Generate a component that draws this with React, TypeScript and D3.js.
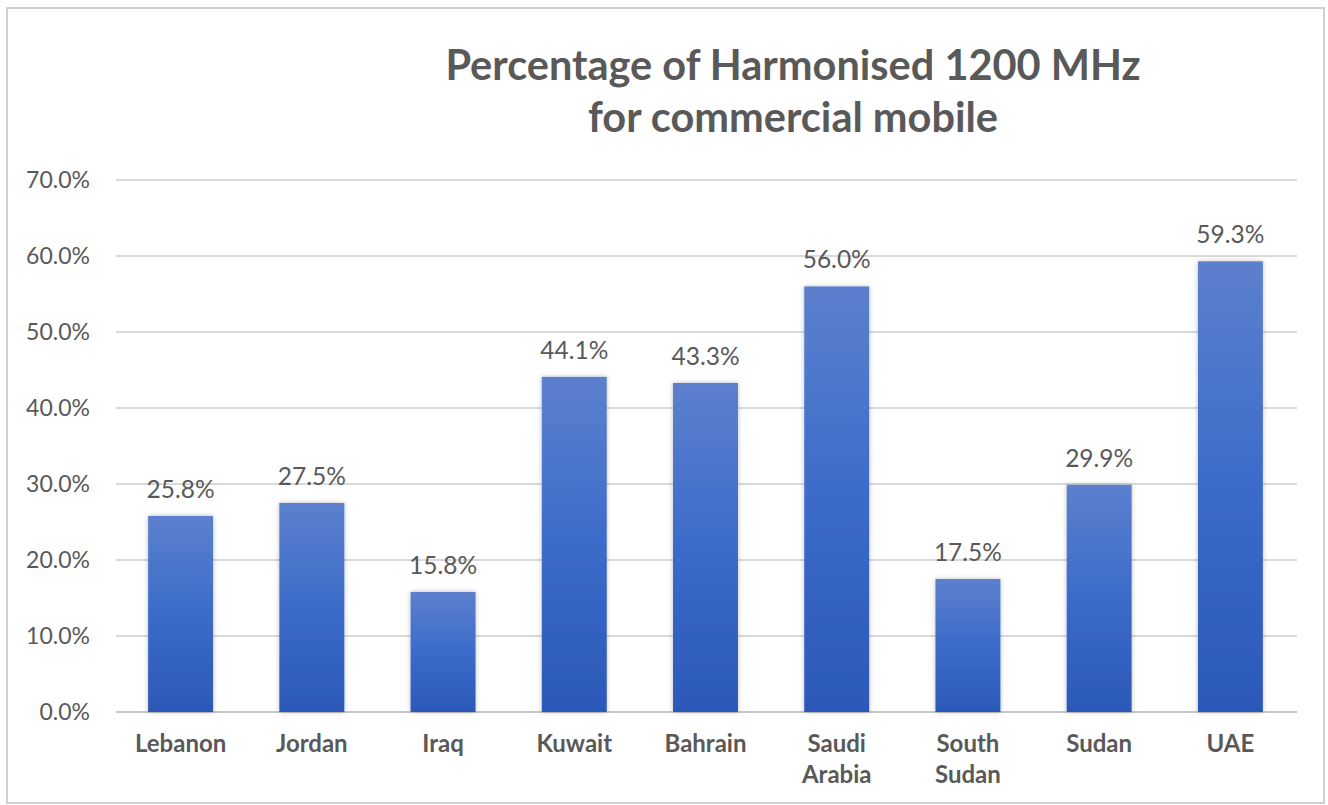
import React from "react";
import * as d3 from "d3";

const categories: string[][] = [
  ["Lebanon"],
  ["Jordan"],
  ["Iraq"],
  ["Kuwait"],
  ["Bahrain"],
  ["Saudi", "Arabia"],
  ["South", "Sudan"],
  ["Sudan"],
  ["UAE"],
];
const values: number[] = [25.8, 27.5, 15.8, 44.1, 43.3, 56.0, 17.5, 29.9, 59.3];
const yTicks: number[] = [0, 10, 20, 30, 40, 50, 60, 70];
const titleLines: string[] = ["Percentage of Harmonised 1200 MHz", "for commercial mobile"];

const W = 1328;
const H = 805;
const FONT = "Lato, 'Open Sans', sans-serif";
const TEXT = "#595959";

export default function App() {
  const keys = categories.map((c) => c.join(" "));
  const x = d3
    .scaleBand<string>()
    .domain(keys)
    .range([115, 1296])
    .paddingInner(0.505)
    .paddingOuter(0.2525);
  const y = d3.scaleLinear().domain([0, 70]).range([712, 180]);

  return (
    <svg
      width={W}
      height={H}
      style={{ position: "absolute", left: 0, top: 0, background: "#fff" }}
    >
      <defs>
        <linearGradient id="barGrad" x1="0" y1="0" x2="0" y2="1">
          <stop offset="0" stopColor="#5c80cd" />
          <stop offset="0.5" stopColor="#3c6bca" />
          <stop offset="1" stopColor="#2c58b8" />
        </linearGradient>
        <filter id="shadow" x="-20%" y="-5%" width="140%" height="110%">
          <feDropShadow dx="0" dy="0" stdDeviation="2.5" floodColor="#000" floodOpacity="0.25" />
        </filter>
      </defs>
      <rect x={7} y={8} width={1317} height={795} fill="#fff" stroke="#d0d0d0" strokeWidth={2} />
      {titleLines.map((t, i) => (
        <text
          key={t}
          x={793}
          y={80 + i * 52}
          textAnchor="middle"
          fontFamily={FONT}
          fontWeight={700}
          fontSize={41.5}
          fill={TEXT}
        >
          {t}
        </text>
      ))}
      {yTicks.map((t) => (
        <g key={t}>
          <line
            x1={116}
            x2={1297}
            y1={y(t)}
            y2={y(t)}
            stroke={t === 0 ? "#c8c8c8" : "#d9d9d9"}
            strokeWidth={2}
          />
          <text
            x={90}
            y={y(t) + 8}
            textAnchor="end"
            fontFamily={FONT}
            fontSize={23}
            fill={TEXT}
          >
            {t.toFixed(1)}%
          </text>
        </g>
      ))}
      {values.map((v, i) => {
        const k = keys[i];
        const bx = x(k) as number;
        const bw = x.bandwidth();
        return (
          <g key={k}>
            <rect
              x={bx}
              y={y(v)}
              width={bw}
              height={y(0) - y(v)}
              fill="url(#barGrad)"
              filter="url(#shadow)"
            />
            <text
              x={bx + bw / 2}
              y={y(v) - 18}
              textAnchor="middle"
              fontFamily={FONT}
              fontSize={24.5}
              fill={TEXT}
            >
              {v.toFixed(1)}%
            </text>
            {categories[i].map((line, j) => (
              <text
                key={line}
                x={bx + bw / 2}
                y={752 + j * 31}
                textAnchor="middle"
                fontFamily={FONT}
                fontWeight={700}
                fontSize={24}
                fill={TEXT}
              >
                {line}
              </text>
            ))}
          </g>
        );
      })}
    </svg>
  );
}
